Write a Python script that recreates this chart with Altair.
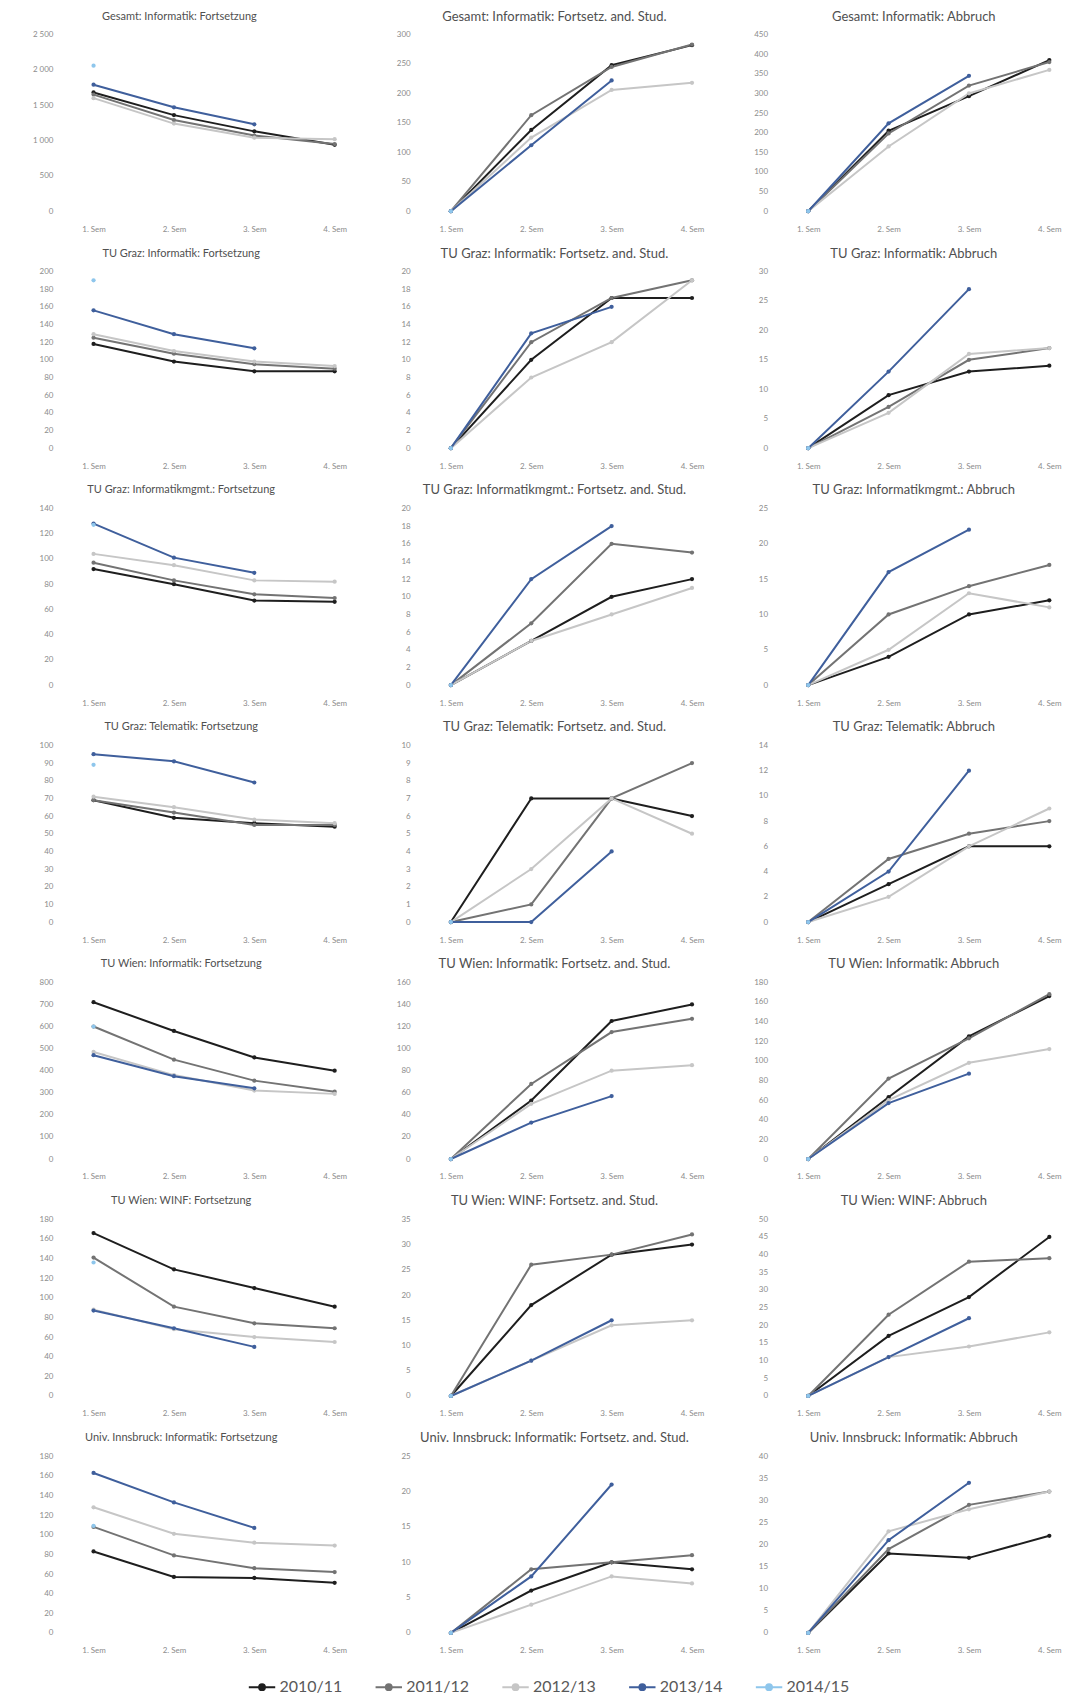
import altair as alt
import pandas as pd

YEARS = ["2010/11", "2011/12", "2012/13", "2013/14", "2014/15"]
COLORS = ["#1e1e1e", "#737373", "#c6c6c6", "#3f5f9c", "#8ec6ec"]
WIDTHS = [2.0, 2.0, 1.2, 2.0, 2.0]
SEMS = ["1. Sem", "2. Sem", "3. Sem", "4. Sem"]

# ---- data: one list per study year (2010/11 ... 2014/15) ----
gesamt_fort = [[1680, 1360, 1130, 940], [1650, 1290, 1070, 950], [1600, 1240, 1040, 1020], [1790, 1470, 1230], [2060]]
gesamt_stud = [[0, 138, 248, 282], [0, 163, 245, 283], [0, 125, 206, 218], [0, 112, 222], [0]]
gesamt_abb = [[0, 205, 293, 385], [0, 198, 320, 380], [0, 165, 300, 360], [0, 224, 345], [0]]

graz_inf_fort = [[118, 98, 87, 87], [125, 107, 95, 90], [129, 110, 98, 93], [156, 129, 113], [190]]
graz_inf_stud = [[0, 10, 17, 17], [0, 12, 17, 19], [0, 8, 12, 19], [0, 13, 16], [0]]
graz_inf_abb = [[0, 9, 13, 14], [0, 7, 15, 17], [0, 6, 16, 17], [0, 13, 27], [0]]

graz_mgmt_fort = [[92, 80, 67, 66], [97, 83, 72, 69], [104, 95, 83, 82], [128, 101, 89], [127]]
graz_mgmt_stud = [[0, 5, 10, 12], [0, 7, 16, 15], [0, 5, 8, 11], [0, 12, 18], [0]]
graz_mgmt_abb = [[0, 4, 10, 12], [0, 10, 14, 17], [0, 5, 13, 11], [0, 16, 22], [0]]

graz_tele_fort = [[69, 59, 56, 54], [69, 62, 55, 55], [71, 65, 58, 56], [95, 91, 79], [89]]
graz_tele_stud = [[0, 7, 7, 6], [0, 1, 7, 9], [0, 3, 7, 5], [0, 0, 4], [0]]
graz_tele_abb = [[0, 3, 6, 6], [0, 5, 7, 8], [0, 2, 6, 9], [0, 4, 12], [0]]

wien_inf_fort = [[710, 580, 460, 400], [600, 450, 355, 305], [485, 380, 310, 295], [470, 375, 320], [600]]
wien_inf_stud = [[0, 53, 125, 140], [0, 68, 115, 127], [0, 50, 80, 85], [0, 33, 57], [0]]
wien_inf_abb = [[0, 63, 125, 166], [0, 82, 123, 168], [0, 60, 98, 112], [0, 57, 87], [0]]

wien_winf_fort = [[166, 129, 110, 91], [141, 91, 74, 69], [88, 68, 60, 55], [87, 69, 50], [136]]
wien_winf_stud = [[0, 18, 28, 30], [0, 26, 28, 32], [0, 7, 14, 15], [0, 7, 15], [0]]
wien_winf_abb = [[0, 17, 28, 45], [0, 23, 38, 39], [0, 11, 14, 18], [0, 11, 22], [0]]

ibk_fort = [[83, 57, 56, 51], [108, 79, 66, 62], [128, 101, 92, 89], [163, 133, 107], [109]]
ibk_stud = [[0, 6, 10, 9], [0, 9, 10, 11], [0, 4, 8, 7], [0, 8, 21], [0]]
ibk_abb = [[0, 18, 17, 22], [0, 19, 29, 32], [0, 23, 28, 32], [0, 21, 34], [0]]

PANELS = [
    ("Gesamt: Informatik: Fortsetzung", gesamt_fort, 2500, 500),
    ("Gesamt: Informatik: Fortsetz. and. Stud.", gesamt_stud, 300, 50),
    ("Gesamt: Informatik: Abbruch", gesamt_abb, 450, 50),
    ("TU Graz: Informatik: Fortsetzung", graz_inf_fort, 200, 20),
    ("TU Graz: Informatik: Fortsetz. and. Stud.", graz_inf_stud, 20, 2),
    ("TU Graz: Informatik: Abbruch", graz_inf_abb, 30, 5),
    ("TU Graz: Informatikmgmt.: Fortsetzung", graz_mgmt_fort, 140, 20),
    ("TU Graz: Informatikmgmt.: Fortsetz. and. Stud.", graz_mgmt_stud, 20, 2),
    ("TU Graz: Informatikmgmt.: Abbruch", graz_mgmt_abb, 25, 5),
    ("TU Graz: Telematik: Fortsetzung", graz_tele_fort, 100, 10),
    ("TU Graz: Telematik: Fortsetz. and. Stud.", graz_tele_stud, 10, 1),
    ("TU Graz: Telematik: Abbruch", graz_tele_abb, 14, 2),
    ("TU Wien: Informatik: Fortsetzung", wien_inf_fort, 800, 100),
    ("TU Wien: Informatik: Fortsetz. and. Stud.", wien_inf_stud, 160, 20),
    ("TU Wien: Informatik: Abbruch", wien_inf_abb, 180, 20),
    ("TU Wien: WINF: Fortsetzung", wien_winf_fort, 180, 20),
    ("TU Wien: WINF: Fortsetz. and. Stud.", wien_winf_stud, 35, 5),
    ("TU Wien: WINF: Abbruch", wien_winf_abb, 50, 5),
    ("Univ. Innsbruck: Informatik: Fortsetzung", ibk_fort, 180, 20),
    ("Univ. Innsbruck: Informatik: Fortsetz. and. Stud.", ibk_stud, 25, 5),
    ("Univ. Innsbruck: Informatik: Abbruch", ibk_abb, 40, 5),
]

FONT = "Lato"
W, H = 277, 177
TITLE_SIZES = [11, 13, 13]
TITLE_OFFSETS = [9, 7, 7]
TITLE_DX = [-13, 3, 5]
LEG_PATH = "M-1,0H1M-0.22,0A0.22,0.22,0,1,0,0.22,0A0.22,0.22,0,1,0,-0.22,0"

color_scale = alt.Scale(domain=YEARS, range=COLORS)
legend = alt.Legend(
    title=None, orient="none", legendX=172, legendY=1641, direction="horizontal",
    symbolType=LEG_PATH, symbolSize=700, symbolStrokeWidth=2.5,
    labelFont=FONT, labelFontSize=16, labelColor="#595959", labelOffset=3,
    columnPadding=29,
)


def panel(title, series, ymax, step, col):
    rows = []
    for yr, vals in zip(YEARS, series):
        for s, v in zip(SEMS, vals):
            rows.append({"sem": s, "val": v, "year": yr})
    df = pd.DataFrame(rows)
    x = alt.X("sem:N", sort=SEMS,
              scale=alt.Scale(type="point", domain=SEMS, padding=0.22),
              axis=alt.Axis(title=None, labelAngle=0, domain=False, ticks=False, grid=False,
                            labelPadding=14, labelFont=FONT, labelFontSize=8, labelColor="#8c8c8c"))
    y = alt.Y("val:Q", scale=alt.Scale(domain=[0, ymax], nice=False, zero=True),
              axis=alt.Axis(title=None, values=list(range(0, ymax + 1, step)), domain=False,
                            ticks=False, grid=False, labelPadding=23, labelFont=FONT,
                            labelFontSize=8, labelColor="#8c8c8c", minExtent=40, maxExtent=40,
                            labelExpr="replace(format(datum.value, ','), ',', ' ')"))
    line = alt.Chart(df).mark_line().encode(
        x=x, y=y,
        color=alt.Color("year:N", scale=color_scale, legend=legend),
        strokeWidth=alt.StrokeWidth("year:N", scale=alt.Scale(domain=YEARS, range=WIDTHS), legend=None),
    )
    pts = alt.Chart(df).mark_point(filled=True, size=18, opacity=1).encode(
        x=x, y=y,
        color=alt.Color("year:N", scale=color_scale, legend=None),
    )
    return alt.layer(line, pts).properties(
        width=W, height=H,
        title=alt.TitleParams(title, fontSize=TITLE_SIZES[col], font=FONT, color="#505050",
                              fontWeight="normal", offset=TITLE_OFFSETS[col], dx=TITLE_DX[col],
                              anchor="middle", frame="bounds"),
    )


charts = [panel(*p, i % 3) for i, p in enumerate(PANELS)]
rows = [alt.hconcat(*charts[i:i + 3], spacing=41) for i in range(0, len(charts), 3)]
chart = alt.vconcat(*rows, spacing=14.4).properties(
    padding={"left": 24, "top": 1, "right": 0, "bottom": 0},
    background="white",
).configure_view(stroke=None)

chart.save("out.html", embed_options={"renderer": "svg", "actions": False})
